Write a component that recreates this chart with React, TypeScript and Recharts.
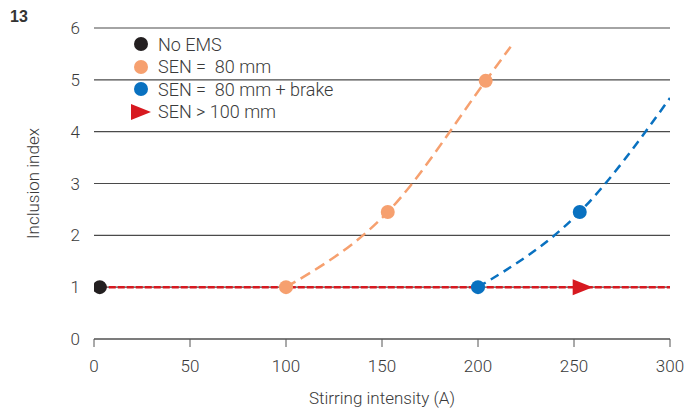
import React from "react";
import {
  ComposedChart,
  Line,
  XAxis,
  YAxis,
  CartesianGrid,
} from "recharts";

// readings from the figure (stirring intensity A -> inclusion index)
const noEmsX = [3];
const noEmsY = [1];

const sen80X = [100, 153, 204, 217];
const sen80Y = [1, 2.45, 4.98, 5.64];
const sen80Marked = [true, true, true, false];

const brakeX = [200, 253, 300];
const brakeY = [1, 2.45, 4.65];
const brakeMarked = [true, true, false];

const sen100X = [3, 254, 300];
const sen100Y = [1, 1, 1];
const sen100Marked = [false, true, false];

const xTicks = [0, 50, 100, 150, 200, 250, 300];
const yTicks = [0, 1, 2, 3, 4, 5, 6];

const COLORS = {
  noEms: "#231f20",
  sen80: "#f6a06f",
  brake: "#0971c0",
  sen100: "#d71920",
};

const legendItems = [
  { name: "No EMS", color: COLORS.noEms, shape: "circle" },
  { name: "SEN =  80 mm", color: COLORS.sen80, shape: "circle" },
  { name: "SEN =  80 mm + brake", color: COLORS.brake, shape: "circle" },
  { name: "SEN > 100 mm", color: COLORS.sen100, shape: "triangle" },
];

const toRows = (xs: number[], ys: number[], marks?: boolean[]) =>
  xs.map((x, i) => ({ x, y: ys[i], mark: marks ? marks[i] : true }));

const FONT = "Roboto, 'Liberation Sans', Arial, sans-serif";
const TEXT = "#3a3a3a";

const circleDot = (color: string) => (props: any) => {
  const { cx, cy, payload, index } = props;
  if (!payload.mark) return <g key={`d-${index}`} />;
  return <circle key={`d-${index}`} cx={cx} cy={cy} r={7} fill={color} />;
};

const triangleDot = (props: any) => {
  const { cx, cy, payload, index } = props;
  if (!payload.mark) return <g key={`t-${index}`} />;
  return (
    <polygon
      key={`t-${index}`}
      points={`${cx - 9},${cy - 8} ${cx + 11},${cy} ${cx - 9},${cy + 8}`}
      fill={COLORS.sen100}
    />
  );
};

function ChartLegend() {
  return (
    <div
      style={{
        position: "absolute",
        left: 130,
        top: 33,
        fontFamily: FONT,
        fontWeight: 300,
        fontSize: 18,
        color: TEXT,
        whiteSpace: "pre",
      }}
    >
      {legendItems.map((it) => (
        <div
          key={it.name}
          style={{ display: "flex", alignItems: "center", height: 22.5 }}
        >
          <svg width={22} height={18} style={{ marginRight: 6 }}>
            {it.shape === "circle" ? (
              <circle cx={11} cy={9} r={7} fill={it.color} />
            ) : (
              <polygon points="1,1 21,9 1,17" fill={it.color} />
            )}
          </svg>
          <span>{it.name}</span>
        </div>
      ))}
    </div>
  );
}

export default function App() {
  return (
    <div style={{ position: "absolute", left: 0, top: 0, width: 684, height: 410, background: "#fff" }}>
      <div
        style={{
          position: "absolute",
          left: 10,
          top: 8,
          fontFamily: "'Liberation Sans', Arial, sans-serif",
          fontWeight: 700,
          fontSize: 16,
          color: "#333",
        }}
      >
        13
      </div>
      <ComposedChart
        width={684}
        height={410}
        margin={{ top: 28, right: 14, bottom: 2, left: 0 }}
      >
        <CartesianGrid vertical={false} stroke="#4a4a4a" strokeWidth={1.2} />
        <XAxis
          type="number"
          dataKey="x"
          domain={[0, 300]}
          ticks={xTicks}
          allowDataOverflow
          stroke="#555"
          tickSize={8}
          tickMargin={13}
          height={69}
          tick={{ fill: TEXT, fontSize: 17, fontFamily: FONT, fontWeight: 300 }}
          label={{
            value: "Stirring intensity (A)",
            position: "insideBottom",
            offset: 4,
            fill: TEXT,
            fontSize: 17,
            fontFamily: FONT,
            fontWeight: 300,
          }}
        />
        <YAxis
          type="number"
          domain={[0, 6]}
          ticks={yTicks}
          width={94}
          axisLine={false}
          tickLine={false}
          tickSize={6}
          tickMargin={8}
          tick={{ fill: TEXT, fontSize: 17, fontFamily: FONT, fontWeight: 300 }}
          label={{
            value: "Inclusion index",
            angle: -90,
            position: "insideLeft",
            offset: 33,
            fill: TEXT,
            fontSize: 17,
            fontFamily: FONT,
            fontWeight: 300,
            style: { textAnchor: "middle" },
          }}
        />
        <Line
          data={toRows(sen100X, sen100Y, sen100Marked)}
          dataKey="y"
          type="linear"
          stroke={COLORS.sen100}
          strokeWidth={2.5}
          strokeDasharray="7 2"
          dot={triangleDot}
          activeDot={false}
          isAnimationActive={false}
        />
        <Line
          data={toRows(sen80X, sen80Y, sen80Marked)}
          dataKey="y"
          type="monotone"
          stroke={COLORS.sen80}
          strokeWidth={2.5}
          strokeDasharray="11 6"
          dot={circleDot(COLORS.sen80)}
          activeDot={false}
          isAnimationActive={false}
        />
        <Line
          data={toRows(brakeX, brakeY, brakeMarked)}
          dataKey="y"
          type="monotone"
          stroke={COLORS.brake}
          strokeWidth={2.5}
          strokeDasharray="9 6"
          dot={circleDot(COLORS.brake)}
          activeDot={false}
          isAnimationActive={false}
        />
        <Line
          data={toRows(noEmsX, noEmsY)}
          dataKey="y"
          stroke="none"
          dot={circleDot(COLORS.noEms)}
          activeDot={false}
          isAnimationActive={false}
        />
      </ComposedChart>
      <ChartLegend />
    </div>
  );
}
